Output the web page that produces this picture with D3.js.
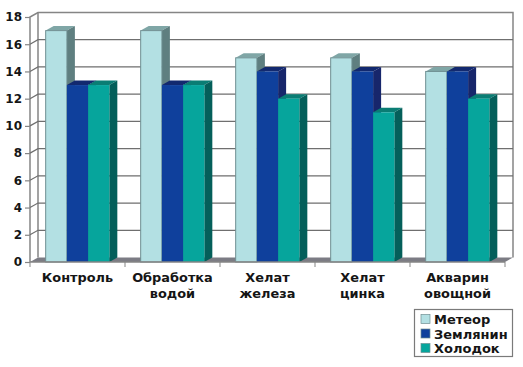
<!DOCTYPE html>
<html>
<head>
<meta charset="utf-8">
<script src="https://cdn.jsdelivr.net/npm/d3@7"></script>
<style>
  body { margin: 0; background: #fff; }
  text { font-family: "DejaVu Sans", sans-serif; font-weight: bold; fill: #151515; }
</style>
</head>
<body>
<div id="graf"></div>
<script>
// Datos de la gráfica
const categorias = ['Контроль', 'Обработка водой', 'Хелат железа', 'Хелат цинка', 'Акварин овощной']
const series = ['Метеор', 'Землянин', 'Холодок']
const meteor = [17, 17, 15, 15, 14]
const zemlyanin = [13, 13, 14, 14, 14]
const holodok = [13, 13, 12, 11, 12]
const valores = [meteor, zemlyanin, holodok]
const ticksY = [0, 2, 4, 6, 8, 10, 12, 14, 16, 18]

// Colores: frente, lado, tapa
const frente = ['#b3e0e3', '#0f409c', '#06a59c']
const lado = ['#5f7f80', '#17266b', '#045f5a']
const tapa = ['#7fa6a6', '#12296f', '#0a7d74']

// Tamaños
const ancho = 523
const alto = 367
const izq = 30
const der = 505
const base = 262
const arriba = 17
const fondoX = 8
const fondoY = 4.5

const svg = d3.select('#graf').append('svg')
    .attr('width', ancho)
    .attr('height', alto)
    .style('display', 'block')

const x = d3.scaleBand()
    .domain(categorias)
    .range([izq, der])
    .paddingInner(0.33)
    .paddingOuter(0.165)

const xSerie = d3.scaleBand()
    .domain(series)
    .range([0, x.bandwidth()])

const y = d3.scaleLinear()
    .domain([0, 18])
    .range([base, arriba])

const gris = '#858585'

// Paredes y piso
svg.append('path')
    .attr('d', `M${izq},${base}L${izq + fondoX},${base - fondoY}H${der + fondoX}L${der},${base}Z`)
    .attr('fill', '#7c7c84')

svg.append('path')
    .attr('d', `M${izq},${base}V${arriba}L${izq + fondoX},${arriba - fondoY}H${der + fondoX}V${base - fondoY}`)
    .attr('fill', 'none')
    .attr('stroke', gris)
    .attr('stroke-width', 1.5)

svg.append('line')
    .attr('x1', izq + fondoX).attr('x2', izq + fondoX)
    .attr('y1', arriba - fondoY).attr('y2', base - fondoY)
    .attr('stroke', gris)
    .attr('stroke-width', 1.5)

// Líneas de la cuadrícula
svg.append('g')
    .selectAll('path')
    .data(ticksY.slice(1, -1))
    .enter()
    .append('path')
    .attr('d', d => `M${izq},${y(d)}L${izq + fondoX},${y(d) - fondoY}H${der + fondoX}`)
    .attr('fill', 'none')
    .attr('stroke', '#6f6f6f')
    .attr('stroke-width', 1.2)

// Eje Y
const ejeY = svg.append('g')
    .attr('transform', `translate(${izq}, 0)`)
    .call(d3.axisLeft(y).tickValues(ticksY).tickSize(5).tickPadding(3))
ejeY.select('.domain').remove()
ejeY.selectAll('line').attr('stroke', gris).attr('stroke-width', 1.2)
ejeY.selectAll('text').style('font-size', '12px').style('font-family', '"DejaVu Sans"').attr('fill', '#151515')

// Barras: cada serie tapa el lado de la anterior
categorias.forEach((cat, i) => {
    series.forEach((s, j) => {
        const v = valores[j][i]
        const x0 = x(cat) + xSerie(s)
        const x1 = x0 + xSerie.bandwidth()
        const y0 = y(v)
        const g = svg.append('g')
        g.append('path')
            .attr('d', `M${x0},${y0}L${x0 + fondoX},${y0 - fondoY}H${x1 + fondoX}L${x1},${y0}Z`)
            .attr('fill', tapa[j])
        g.append('path')
            .attr('d', `M${x1},${y0}L${x1 + fondoX},${y0 - fondoY}V${base - fondoY}L${x1},${base}Z`)
            .attr('fill', lado[j])
        g.append('rect')
            .attr('x', x0)
            .attr('y', y0)
            .attr('width', xSerie.bandwidth())
            .attr('height', base - y0)
            .attr('fill', frente[j])
            .attr('stroke', j === 0 ? '#6f8f92' : 'none')
            .attr('stroke-width', 1)
    })
})

// Eje X: marcas entre categorías
svg.append('line')
    .attr('x1', izq).attr('x2', der)
    .attr('y1', base).attr('y2', base)
    .attr('stroke', gris)
    .attr('stroke-width', 1.5)

svg.append('g')
    .selectAll('line')
    .data(d3.range(categorias.length + 1))
    .enter()
    .append('line')
    .attr('x1', d => izq + d * x.step())
    .attr('x2', d => izq + d * x.step())
    .attr('y1', base)
    .attr('y2', base + 5)
    .attr('stroke', gris)

// Etiquetas de categorías
const etiquetas = svg.append('g')
    .selectAll('text')
    .data(categorias)
    .enter()
    .append('text')
    .attr('text-anchor', 'middle')
    .style('font-size', '12.9px')

etiquetas.each(function(d) {
    const partes = d.split(' ')
    d3.select(this).selectAll('tspan')
        .data(partes)
        .enter()
        .append('tspan')
        .attr('x', x(d) + x.bandwidth() / 2)
        .attr('y', (p, k) => 282 + k * 16)
        .text(p => p)
})

// Leyenda
const leyenda = svg.append('g').attr('transform', 'translate(414, 309)')
leyenda.append('rect')
    .attr('x', 0.5).attr('y', 0.5)
    .attr('width', 98).attr('height', 47)
    .attr('fill', '#fff')
    .attr('stroke', '#7a7a7a')
    .attr('stroke-width', 1.2)

const filas = leyenda.selectAll('g.fila')
    .data(series)
    .enter()
    .append('g')
    .attr('class', 'fila')
    .attr('transform', (d, i) => `translate(7, ${4.5 + i * 14.5})`)

filas.append('rect')
    .attr('width', 9).attr('height', 9)
    .attr('y', 1)
    .attr('fill', (d, i) => frente[i])
    .attr('stroke', '#6f8f92')
    .attr('stroke-width', 0.7)

filas.append('text')
    .attr('x', 13)
    .attr('y', 10.5)
    .style('font-size', '13px')
    .text(d => d)
</script>
</body>
</html>
